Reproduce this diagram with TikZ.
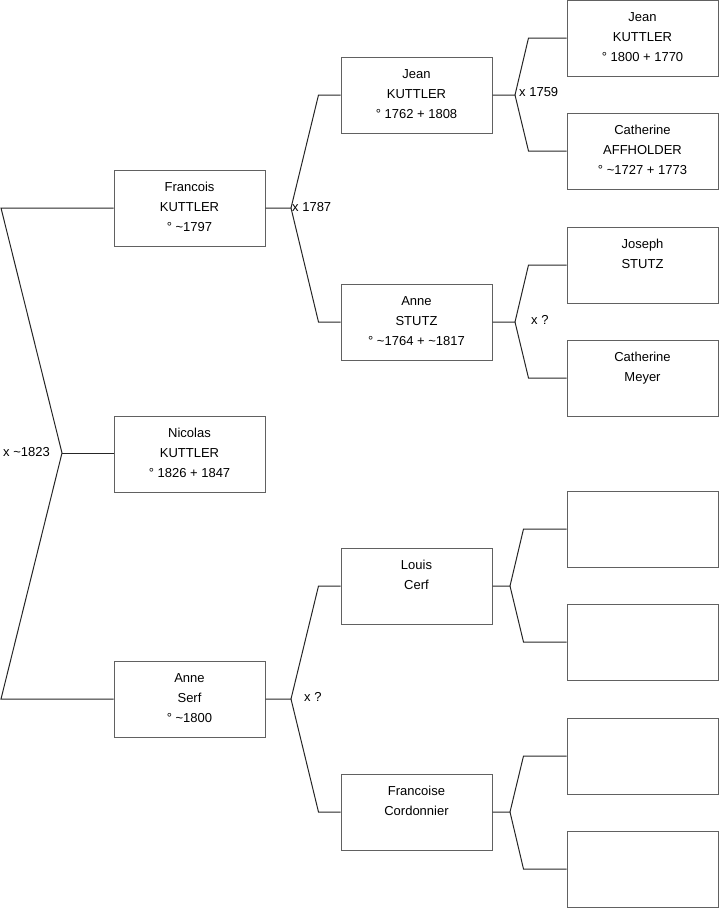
\documentclass[tikz,border=0pt]{standalone}
\usepackage{fontspec}
\setmainfont{Liberation Sans}
\newcommand\famtxt[1]{\parbox[c][76pt][t]{151pt}{\centering\fontsize{13}{20}\selectfont\rule{0pt}{21.5pt}#1\par}}
\begin{document}
\begin{tikzpicture}[x=1pt,y=-1pt,
  person/.style={draw=black!62,line width=1pt,rectangle,inner sep=0pt,minimum width=151pt,minimum height=76pt},
  link/.style={draw=black!85,line width=1pt},
  marr/.style={anchor=west,inner sep=0pt,font=\fontsize{13}{15}\selectfont}]
\useasboundingbox (0,0) rectangle (719,908);
% generation 1
\node[person] (fran) at (189.5,208) {\famtxt{Francois\\KUTTLER\\° \textasciitilde1797}};
\node[person] (nico) at (189.5,454) {\famtxt{Nicolas\\KUTTLER\\° 1826 + 1847}};
\node[person] (serf) at (189.5,699) {\famtxt{Anne\\Serf\\° \textasciitilde1800}};
% generation 2
\node[person] (jean) at (416.5,95) {\famtxt{Jean\\KUTTLER\\° 1762 + 1808}};
\node[person] (stutz) at (416.5,322) {\famtxt{Anne\\STUTZ\\° \textasciitilde1764 + \textasciitilde1817}};
\node[person] (cerf) at (416.5,586) {\famtxt{Louis\\Cerf}};
\node[person] (cord) at (416.5,812) {\famtxt{Francoise\\Cordonnier}};
% generation 3
\node[person] (jean2) at (642.5,38) {\famtxt{Jean\\KUTTLER\\° 1800 + 1770}};
\node[person] (affh) at (642.5,151) {\famtxt{Catherine\\AFFHOLDER\\° \textasciitilde1727 + 1773}};
\node[person] (jos) at (642.5,265) {\famtxt{Joseph\\STUTZ}};
\node[person] (meyer) at (642.5,378) {\famtxt{Catherine\\Meyer}};
\node[person] (e1) at (642.5,529) {};
\node[person] (e2) at (642.5,642) {};
\node[person] (e3) at (642.5,756) {};
\node[person] (e4) at (642.5,869) {};
% left fork
\coordinate (lt) at (1,208);
\coordinate (lm) at (62,453);
\coordinate (lb) at (1,699);
\draw[link] (fran.west) -- (lt) -- (lm) -- (lb) -- (serf.west);
\draw[link] (lm) -- (lm -| nico.west);
\node[marr] (m0) at (3,452) {x \textasciitilde1823};
% Francois fork
\coordinate (f0) at (291,208);
\draw[link] (fran.east) -- (f0) -- ([xshift=-22pt]jean.west) -- (jean.west);
\draw[link] (f0) -- ([xshift=-22pt]stutz.west) -- (stutz.west);
\node[marr] (m1) at (292,207) {x 1787};
% Serf fork
\coordinate (s0) at (291,699);
\draw[link] (serf.east) -- (s0) -- ([xshift=-22pt]cerf.west) -- (cerf.west);
\draw[link] (s0) -- ([xshift=-22pt]cord.west) -- (cord.west);
\node[marr] (m2) at (304,697) {x ?};
% Jean fork
\coordinate (j0) at (515,95);
\draw[link] (jean.east) -- (j0) -- ([xshift=-38pt]jean2.west) -- (jean2.west);
\draw[link] (j0) -- ([xshift=-38pt]affh.west) -- (affh.west);
\node[marr] (m3) at (519,92) {x 1759};
% Stutz fork
\coordinate (a0) at (515,322);
\draw[link] (stutz.east) -- (a0) -- ([xshift=-38pt]jos.west) -- (jos.west);
\draw[link] (a0) -- ([xshift=-38pt]meyer.west) -- (meyer.west);
\node[marr] (m4) at (531,320) {x ?};
% Cerf fork
\coordinate (c0) at (510,586);
\draw[link] (cerf.east) -- (c0) -- ([xshift=-43pt]e1.west) -- (e1.west);
\draw[link] (c0) -- ([xshift=-43pt]e2.west) -- (e2.west);
% Cordonnier fork
\coordinate (d0) at (510,812);
\draw[link] (cord.east) -- (d0) -- ([xshift=-43pt]e3.west) -- (e3.west);
\draw[link] (d0) -- ([xshift=-43pt]e4.west) -- (e4.west);
\end{tikzpicture}
\end{document}
